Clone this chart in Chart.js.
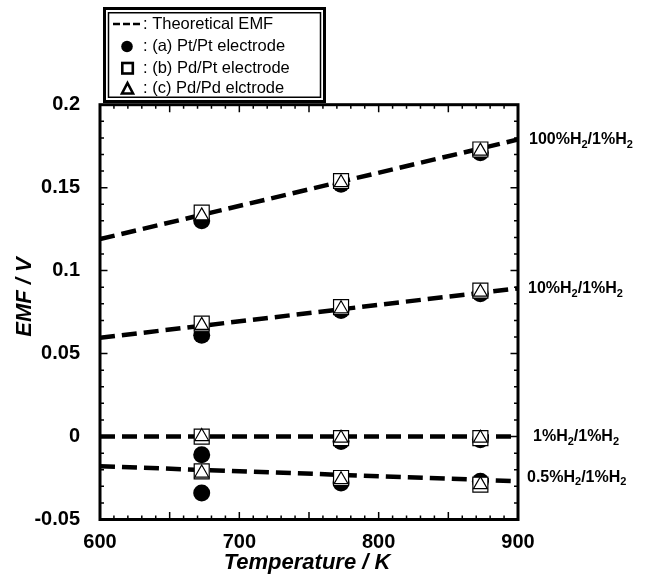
<!DOCTYPE html>
<html><head><meta charset="utf-8">
<script src="https://cdn.jsdelivr.net/npm/chart.js@4.4.0/dist/chart.umd.min.js"></script>
<style>html,body{margin:0;padding:0;background:#fff}</style>
</head><body>
<canvas id="c" width="650" height="577"></canvas>
<script>
// ---- data ----
const temperatures = [673, 773, 873];
// (a) Pt/Pt electrode
const ptPt100 = [0.130, 0.152, 0.171];
const ptPt10  = [0.061, 0.076, 0.086];
const ptPt1   = [-0.011, -0.003, -0.002];
const ptPt05  = [-0.034, -0.028, -0.027];
// (b) Pd/Pt electrode
const pdPt100 = [0.135, 0.154, 0.173];
const pdPt10  = [0.068, 0.078, 0.088];
const pdPt1   = [0.000, -0.001, -0.001];
const pdPt05  = [-0.021, -0.025, -0.029];
// (c) Pd/Pd electrode
const pdPd100 = [0.133, 0.153, 0.172];
const pdPd10  = [0.067, 0.077, 0.087];
const pdPd1   = [0.000, -0.001, -0.001];
const pdPd05  = [-0.022, -0.026, -0.029];
// theoretical EMF lines (end points)
const theoryT   = [600, 900];
const theory100 = [0.119, 0.179];
const theory10  = [0.0595, 0.0893];
const theory1   = [0, 0];
const theory05  = [-0.0179, -0.0269];
// ticks
const xTickValues = [600, 700, 800, 900];
const xTickLabels = ['600', '700', '800', '900'];
const yTickValues = [-0.05, 0, 0.05, 0.1, 0.15, 0.2];
const yTickLabels = ['-0.05', '0', '0.05', '0.1', '0.15', '0.2'];
// right-hand labels
const ratioLabels = [
  ['100%H', '2', '/1%H', '2'],
  ['10%H', '2', '/1%H', '2'],
  ['1%H', '2', '/1%H', '2'],
  ['0.5%H', '2', '/1%H', '2']
];
const ratioLabelY = [0.179, 0.089, 0, -0.0245];
const legendTexts = [': Theoretical EMF', ': (a) Pt/Pt electrode', ': (b) Pd/Pt electrode', ': (c) Pd/Pd elctrode'];

// ---- helpers ----
function pts(xs, ...series) {
  const out = [];
  series.forEach(s => xs.forEach((x, i) => out.push({x: x, y: s[i]})));
  return out;
}
const FONT = '"Liberation Sans", Arial, sans-serif';
const ratioLabelDX = [11, 10, 15, 9];

function theoryDS(arr) {
  return {
    type: 'line', data: pts(theoryT, arr), showLine: true,
    borderColor: '#000', borderWidth: 4.5, borderDash: [15, 7], borderCapStyle: 'butt',
    pointRadius: 0, fill: false, tension: 0, order: 10
  };
}

const framePlugin = {
  id: 'frame',
  afterDraw(chart) {
    const ctx = chart.ctx, a = chart.chartArea;
    const xs = chart.scales.x, ys = chart.scales.y;
    ctx.save();
    ctx.strokeStyle = '#000';
    // minor/major ticks, inward on all four sides
    ctx.lineWidth = 1.5;
    ctx.beginPath();
    for (let k = 600; k <= 900; k += 10) {
      const px = xs.getPixelForValue(k);
      const len = (k % 50 === 0) ? 7.5 : 4;
      ctx.moveTo(px, a.bottom); ctx.lineTo(px, a.bottom - len);
      ctx.moveTo(px, a.top); ctx.lineTo(px, a.top + len);
    }
    for (let j = -5; j <= 20; j++) {
      const py = ys.getPixelForValue(j / 100);
      const len = (j % 5 === 0) ? 7.5 : 4;
      ctx.moveTo(a.left, py); ctx.lineTo(a.left + len, py);
      ctx.moveTo(a.right, py); ctx.lineTo(a.right - len, py);
    }
    ctx.stroke();
    // frame
    ctx.lineWidth = 3;
    ctx.strokeRect(a.left, a.top, a.right - a.left, a.bottom - a.top);

    // axis titles
    ctx.fillStyle = '#000';
    ctx.font = 'italic bold 22px ' + FONT;
    ctx.textAlign = 'center';
    ctx.textBaseline = 'middle';
    ctx.fillText('Temperature / K', 307, 563);
    ctx.save();
    ctx.translate(25, 297);
    ctx.rotate(-Math.PI / 2);
    ctx.fillText('EMF / V', 0, 0);
    ctx.restore();

    // ratio labels on the right
    ctx.textAlign = 'left';
    ratioLabels.forEach((parts, i) => {
      let x = a.right + ratioLabelDX[i];
      const y = ys.getPixelForValue(ratioLabelY[i]);
      parts.forEach((p, k) => {
        const sub = k % 2 === 1;
        ctx.font = 'bold ' + (sub ? 11 : 16) + 'px ' + FONT;
        ctx.fillText(p, x, sub ? y + 5 : y);
        x += ctx.measureText(p).width;
      });
    });

    // legend box
    ctx.lineWidth = 3;
    ctx.strokeRect(104.5, 8.5, 220, 93);
    ctx.lineWidth = 1.5;
    ctx.strokeRect(108.5, 12.75, 212, 84.5);
    const ly = [24, 46.5, 68, 88.5];
    // dashed sample
    ctx.lineWidth = 2.7;
    ctx.setLineDash([7, 3]);
    ctx.beginPath(); ctx.moveTo(113, ly[0]); ctx.lineTo(141, ly[0]); ctx.stroke();
    ctx.setLineDash([]);
    // circle
    ctx.beginPath(); ctx.arc(127, ly[1], 5.8, 0, Math.PI * 2); ctx.fill();
    // square
    ctx.lineWidth = 2.6;
    ctx.strokeRect(122.3, ly[2] - 5, 10.5, 10.5);
    // triangle
    ctx.beginPath();
    ctx.moveTo(127.5, ly[3] - 5.5);
    ctx.lineTo(133, ly[3] + 5);
    ctx.lineTo(122, ly[3] + 5);
    ctx.closePath(); ctx.stroke();
    ctx.font = '16.5px ' + FONT;
    ctx.textBaseline = 'middle';
    legendTexts.forEach((t, i) => ctx.fillText(t, 143, ly[i]));
    ctx.restore();
  }
};

new Chart(document.getElementById('c'), {
  type: 'scatter',
  data: {
    datasets: [
      theoryDS(theory100), theoryDS(theory10), theoryDS(theory1), theoryDS(theory05),
      {
        data: pts(temperatures, ptPt100, ptPt10, ptPt1, ptPt05),
        pointStyle: 'circle', pointRadius: 8.5, backgroundColor: '#000', borderColor: '#000', borderWidth: 0, order: 3
      },
      {
        data: pts(temperatures, pdPt100, pdPt10, pdPt1, pdPt05),
        pointStyle: 'rect', pointRadius: 10.6, backgroundColor: '#fff', borderColor: '#000', borderWidth: 1.2, order: 2
      },
      {
        data: pts(temperatures, pdPd100, pdPd10, pdPd1, pdPd05),
        pointStyle: 'triangle', pointRadius: 8, backgroundColor: '#fff', borderColor: '#000', borderWidth: 1.2, order: 1
      }
    ]
  },
  options: {
    responsive: false,
    animation: false,
    devicePixelRatio: 1,
    layout: { padding: { top: 104.7, right: 132, left: 0, bottom: 0 } },
    plugins: { legend: { display: false }, tooltip: { enabled: false } },
    scales: {
      x: {
        type: 'linear', min: 600, max: 900,
        grid: { display: false }, border: { display: false },
        afterFit(s) { s.height = 57.5; },
        afterBuildTicks(s) { s.ticks = xTickValues.map(v => ({ value: v })); },
        ticks: {
          padding: 3, maxRotation: 0, autoSkip: false, color: '#000',
          font: { family: FONT, size: 20, weight: 'bold' },
          callback: (v, i) => xTickLabels[i]
        }
      },
      y: {
        type: 'linear', min: -0.05, max: 0.2,
        grid: { display: false }, border: { display: false },
        afterFit(s) { s.width = 100; },
        afterBuildTicks(s) { s.ticks = yTickValues.map(v => ({ value: v })); },
        ticks: {
          padding: 12, autoSkip: false, color: '#000',
          font: { family: FONT, size: 20, weight: 'bold' },
          callback: (v, i) => yTickLabels[i]
        }
      }
    }
  },
  plugins: [framePlugin]
});
</script>
</body></html>
